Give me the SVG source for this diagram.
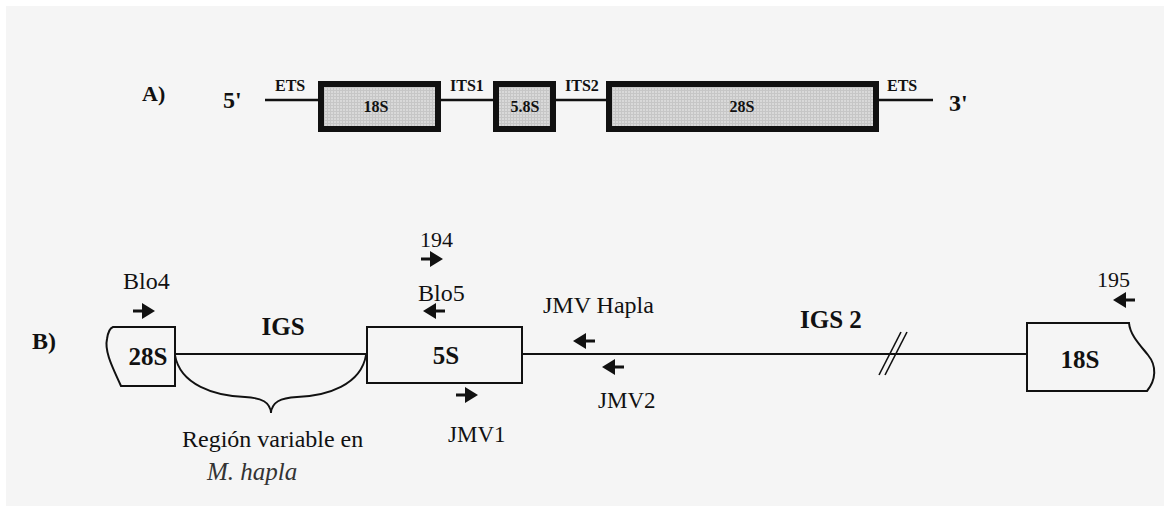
<svg xmlns="http://www.w3.org/2000/svg" xmlns:xlink="http://www.w3.org/1999/xlink" width="1164" height="506" viewBox="0 0 1164 506" font-family="'Liberation Serif', 'DejaVu Serif', serif">
<style>
text{font-family:'Liberation Serif','DejaVu Serif',serif;fill:#111}
.b{font-weight:bold}
.sm{font-size:16px;font-weight:bold}
.lg{font-size:24px}
.nm{font-size:25px;font-weight:bold}
.gene{fill:url(#grid);stroke:#111;stroke-width:6}
.box{fill:none;stroke:#111;stroke-width:2}
.ln{stroke:#111;fill:none}
.arr{fill:#111}
</style>
<defs>
<pattern id="grid" width="3" height="3" patternUnits="userSpaceOnUse">
<rect width="3" height="3" fill="#d9d9d9"/>
<path d="M0,0.5 H3 M0.5,0 V3" stroke="#c6c6c6" stroke-width="1"/>
</pattern>
<path id="arrR" d="M-22,-1.6 H-13 V-8 L0,0 L-13,8 V1.6 H-22 Z"/>
<path id="arrL" d="M22,-1.6 H13 V-8 L0,0 L13,8 V1.6 H22 Z"/>
</defs>
<rect x="6" y="6" width="1158" height="500" fill="#f5f5f5"/>

<g id="connectors">
<line class="ln" stroke-width="2.5" x1="265" y1="100" x2="318" y2="100"/>
<line class="ln" stroke-width="2.5" x1="441" y1="100" x2="493" y2="100"/>
<line class="ln" stroke-width="2.5" x1="556" y1="100" x2="606" y2="100"/>
<line class="ln" stroke-width="2.5" x1="879" y1="100" x2="933" y2="100"/>
<line class="ln" stroke-width="1.8" x1="175" y1="354" x2="367" y2="354"/>
<line class="ln" stroke-width="2" x1="522" y1="354" x2="1027" y2="354"/>
<path class="ln" stroke-width="1.8" d="M175,355 C180,385 215,396 245,397 C262,398 270,402 271,413 C272,402 280,398 297,397 C327,396 361,385 366,355"/>
</g>

<g id="labelA"><text class="b" x="142" y="101" font-size="22">A)</text></g>
<g id="end5"><text class="b lg" x="223" y="108">5'</text></g>
<g id="end3"><text class="b lg" x="949" y="111">3'</text></g>
<g id="ets1"><text class="sm" x="275" y="91">ETS</text></g>
<g id="its1"><text class="sm" x="450" y="91">ITS1</text></g>
<g id="its2"><text class="sm" x="565" y="91">ITS2</text></g>
<g id="ets2"><text class="sm" x="887" y="91">ETS</text></g>

<g id="gene18S"><rect class="gene" x="321" y="84" width="117" height="45"/><text class="sm" x="376" y="112" text-anchor="middle">18S</text></g>
<g id="gene58S"><rect class="gene" x="496" y="84" width="57" height="45"/><text class="sm" x="525" y="112" text-anchor="middle">5.8S</text></g>
<g id="gene28S"><rect class="gene" x="609" y="84" width="267" height="45"/><text class="sm" x="742" y="112" text-anchor="middle">28S</text></g>

<g id="labelB"><text class="b lg" x="32" y="349">B)</text></g>

<g id="box28S">
<path class="box" d="M121,386 C114,370 104,352 107,339 C108,332 110,328 113,327 H175 V386 Z"/>
<text class="nm" x="148" y="365" text-anchor="middle">28S</text>
</g>
<g id="igs"><text class="nm" x="283" y="335" text-anchor="middle">IGS</text></g>
<g id="box5S">
<rect class="box" x="367" y="327" width="155" height="56"/>
<text class="nm" x="446" y="364" text-anchor="middle">5S</text>
</g>
<g id="igs2"><text class="nm" x="800" y="328">IGS 2</text></g>
<g id="break">
<line class="ln" stroke-width="1.6" x1="879" y1="375" x2="901" y2="332"/>
<line class="ln" stroke-width="1.6" x1="885" y1="375" x2="907" y2="332"/>
</g>
<g id="box18S">
<path class="box" d="M1027,323 H1129 C1130,335 1140,345 1148,355 C1157,366 1156,380 1147,391 H1027 Z"/>
<text class="nm" x="1080" y="368" text-anchor="middle">18S</text>
</g>

<g id="primerBlo4"><text class="lg" x="123" y="289">Blo4</text><use xlink:href="#arrR" class="arr" x="155" y="311"/></g>
<g id="primer194"><text x="420" y="247" font-size="22">194</text><use xlink:href="#arrR" class="arr" x="443" y="259"/></g>
<g id="primerBlo5"><text class="lg" x="418" y="301">Blo5</text><use xlink:href="#arrL" class="arr" x="423" y="311"/></g>
<g id="primerJMV1"><use xlink:href="#arrR" class="arr" x="478" y="395"/><text x="448" y="442" font-size="23">JMV1</text></g>
<g id="primerJMVHapla"><text class="lg" x="543" y="313">JMV Hapla</text><use xlink:href="#arrL" class="arr" x="573" y="341"/></g>
<g id="primerJMV2"><use xlink:href="#arrL" class="arr" x="602" y="367"/><text x="598" y="408" font-size="23">JMV2</text></g>
<g id="primer195"><text x="1097" y="287" font-size="22">195</text><use xlink:href="#arrL" class="arr" x="1113" y="300"/></g>

<g id="region">
<text class="lg" x="182" y="447">Región variable en</text>
<text x="207" y="480" font-size="25" font-style="italic" style="fill:#333">M. hapla</text>
</g>
</svg>
